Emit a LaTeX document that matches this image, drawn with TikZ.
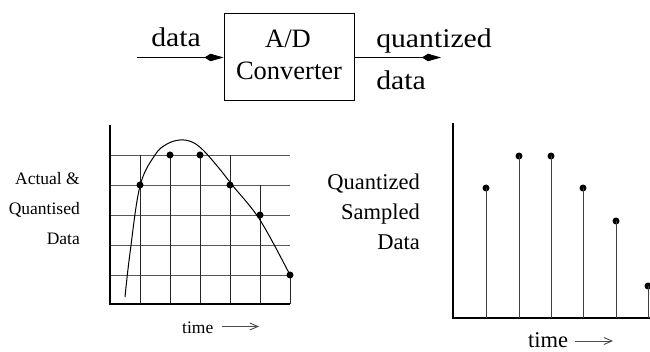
\documentclass[tikz,border=0pt]{standalone}
\usepackage{fontspec}
\setmainfont{Liberation Serif}
\newfontfamily\widefont[FakeStretch=1.1]{Liberation Serif}
\usetikzlibrary{arrows.meta}
\tikzset{
  big/.style={font=\fontsize{26.5}{30}\selectfont, inner sep=0pt},
  wide/.style={font=\widefont\fontsize{27}{30}\selectfont, inner sep=0pt},
  mid/.style={font=\fontsize{22.5}{25}\selectfont, inner sep=0pt},
  small/.style={font=\fontsize{17.5}{20}\selectfont, inner sep=0pt},
  axis/.style={line width=1.2pt, black},
  grid/.style={line width=0.9pt, black!65},
  stem/.style={line width=1pt, black!75},
  dot/.style={circle, fill=black, inner sep=0pt, minimum size=7pt},
  kitearrow/.style={line width=0.9pt, -{Kite[length=19pt,width=7.5pt,inset=6pt]}},
  timearrow/.style={line width=0.9pt, black!70, -{Straight Barb[length=8pt,width=7pt]}},
}
\begin{document}
\begin{tikzpicture}[x=1pt,y=-1pt]
\useasboundingbox (0,0) rectangle (650,352);
% ---- top block
\node[draw, line width=1pt, minimum width=130pt, minimum height=87pt, inner sep=0pt] (ad) at (289,57.5) {};
\node[big, anchor=base] (ad1) at (288,48) {A/D};
\node[big, anchor=base] (ad2) at (289,80) {Converter};
\coordinate (in) at (137,57.5);
\coordinate (out) at (441,57.5);
\draw[kitearrow] (in) -- (ad.west);
\draw[kitearrow] (ad.east) -- (out);
\node[wide, anchor=base] (din) at (176,47) {data};
\node[wide, anchor=base] (q1) at (434,48) {quantized};
\node[wide, anchor=base] (q2) at (401,90) {data};
% ---- left plot
\coordinate (lo) at (110,304);
\coordinate (ltop) at (110,125);
\coordinate (lr) at (290,304);
\foreach \y in {155,185,215,245,275} \draw[grid] (110,\y) -- (290,\y);
\foreach \x/\t in {140/155,170/155,200/155,230/155,260/185,290/275} \draw[grid, black!85] (\x,\t) -- (\x,304);
\draw[axis] (ltop) -- (lo) -- (lr);
\draw[line width=1pt] plot[smooth, tension=0.6] coordinates {(125,297) (130,253) (140,186) (155,155) (167,144) (180,140) (192,142) (203,150) (218,167) (233,186) (260,220) (290,275)};
\foreach \x/\y [count=\i] in {140/185,170/155,200/155,230/185,260/215,290/275} \node[dot] (ld\i) at (\x,\y) {};
\node[small, anchor=base east] (l1) at (80,185) {Actual \&};
\node[small, anchor=base east] (l2) at (80,215) {Quantised};
\node[small, anchor=base east] (l3) at (80,245) {Data};
\node[small, anchor=base west] (lt) at (182,334) {time};
\coordinate (la1) at (222,326.5);
\coordinate (la2) at (259,326.5);
\draw[timearrow] (la1) -- (la2);
% ---- right plot
\coordinate (ro) at (453,318);
\coordinate (rtop) at (453,123);
\coordinate (rr) at (650,318);
\draw[axis] (rtop) -- (ro) -- (rr);
\foreach \x/\y [count=\i] in {486/188,519/156,551/156,583/188,616/221,648/286} {
  \node[dot] (rd\i) at (\x,\y) {};
  \draw[stem] (rd\i.center) -- (\x,318);
}
\node[mid, anchor=base east] (r1) at (420,190) {Quantized};
\node[mid, anchor=base east] (r2) at (420,220) {Sampled};
\node[mid, anchor=base east] (r3) at (420,250) {Data};
\node[mid, anchor=base west] (rt) at (528,348) {time};
\coordinate (ra1) at (575,341);
\coordinate (ra2) at (613,341);
\draw[timearrow] (ra1) -- (ra2);
\end{tikzpicture}
\end{document}
